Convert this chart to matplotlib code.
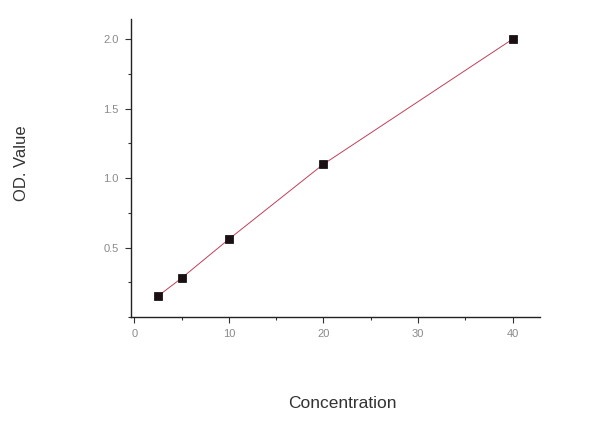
import matplotlib
matplotlib.use("Agg")
import matplotlib.pyplot as plt
import matplotlib.ticker as mticker

plt.rcParams["font.family"] = ["Liberation Sans", "DejaVu Sans"]

# 표준곡선 데이터
conc = [2.5, 5, 10, 20, 40]
od = [0.15, 0.28, 0.56, 1.10, 2.00]

x_ticks = [0, 10, 20, 30, 40]
y_ticks = [0.5, 1.0, 1.5, 2.0]

fig = plt.figure(figsize=(6.0, 4.34), dpi=100)
ax = fig.add_axes([0.2183, 0.2696, 0.6817, 0.6866])

ax.plot(conc, od, color="#c0405a", lw=0.7, zorder=2)
ax.plot(conc, od, ls="none", marker="s", ms=5.5, mfc="#1a0f12",
        mec="#000000", mew=0.5, zorder=3)

ax.set_xlim(-0.35, 42.9)
ax.set_ylim(0.0, 2.145)
ax.set_xticks(x_ticks)
ax.set_yticks(y_ticks)
ax.xaxis.set_minor_locator(mticker.MultipleLocator(5))
ax.yaxis.set_minor_locator(mticker.MultipleLocator(0.25))
ax.set_yticklabels([f"{v:.1f}" for v in y_ticks])

for s in ["top", "right"]:
    ax.spines[s].set_visible(False)
for s in ["left", "bottom"]:
    ax.spines[s].set_linewidth(1.0)
    ax.spines[s].set_color("#222222")

ax.tick_params(which="major", direction="out", length=4, width=0.8,
               colors="#333333", labelcolor="#8a8a8a", labelsize=8, pad=5)
ax.tick_params(which="minor", direction="out", length=2, width=0.8,
               colors="#333333")

fig.text(0.036, 0.624, "OD. Value", rotation=90, ha="center", va="center",
         fontsize=12, color="#333333")
fig.text(0.571, 0.071, "Concentration", ha="center", va="center",
         fontsize=12.5, color="#333333")

fig.savefig("out.png", dpi=100)
plt.close(fig)
